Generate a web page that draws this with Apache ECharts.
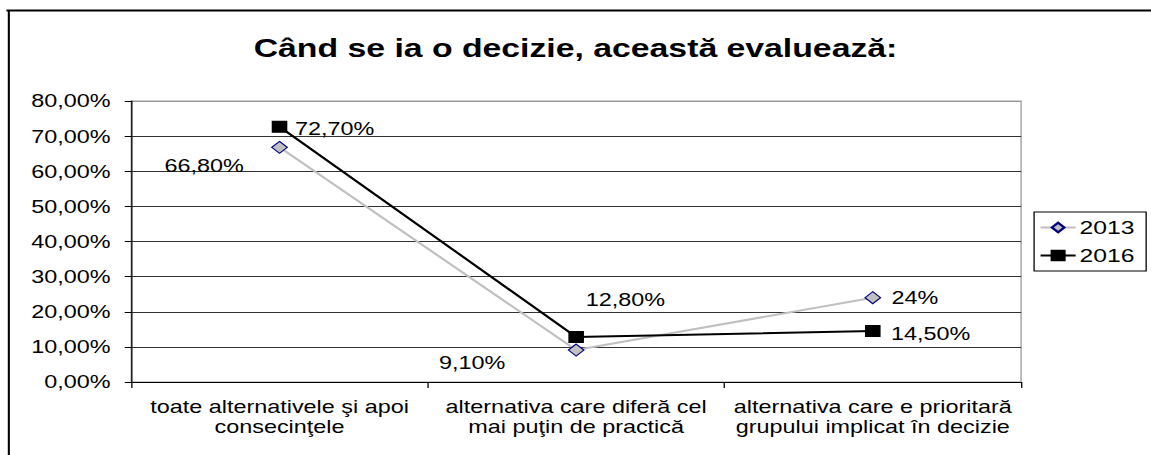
<!DOCTYPE html>
<html>
<head>
<meta charset="utf-8">
<script src="https://cdn.jsdelivr.net/npm/echarts@6/dist/echarts.min.js"></script>
<style>
html,body{margin:0;padding:0;background:#fff;overflow:hidden;}
#wrap{width:1151px;height:455px;overflow:hidden;position:relative;}
#chart{width:886px;height:455px;transform:scaleX(1.2991);transform-origin:0 0;}
</style>
</head>
<body>
<div id="wrap"><div id="chart"></div></div>
<script>
const titleText = 'Când se ia o decizie, această evaluează:';
const categories = ['toate alternativele şi apoi\nconsecinţele', 'alternativa care diferă cel\nmai puţin de practică', 'alternativa care e prioritară\ngrupului implicat în decizie'];
const seriesNames = ['2013', '2016'];
const values2013 = [66.8, 9.1, 24];
const values2016 = [72.7, 12.8, 14.5];
const labels2013 = ['66,80%', '9,10%', '24%'];
const labels2016 = ['72,70%', '12,80%', '14,50%'];
const yMin = 0, yMax = 80, yStep = 10;

const FONT = 'Liberation Sans, Arial, sans-serif';

// label placement per point (layout only)
const place2013 = [
  {position: 'left', offset: [-16, 18]},
  {position: 'left', offset: [-43, 12]},
  {position: 'right', offset: [3, 0]}
];
const place2016 = [
  {position: 'right', offset: [1, 2]},
  {position: 'top', offset: [38, -18]},
  {position: 'right', offset: [3, 2]}
];

function mkData(vals, labels, place) {
  return vals.map((v, i) => ({
    value: v,
    label: Object.assign({show: true, formatter: labels[i]}, place[i])
  }));
}

const chart = echarts.init(document.getElementById('chart'), null, {renderer: 'svg'});
const gridColors = [];
for (let v = yMin; v <= yMax; v += yStep) gridColors.push(v === yMax ? '#9a9a9a' : '#333');

chart.setOption({
  animation: false,
  backgroundColor: '#fff',
  textStyle: {fontFamily: FONT},
  title: {
    text: titleText,
    left: 'center',
    top: 30,
    textStyle: {fontFamily: FONT, fontSize: 26, fontWeight: 'bold', color: '#000'}
  },
  grid: {
    left: 101, right: 100, top: 101, bottom: 73,
    show: true, borderColor: '#9a9a9a', borderWidth: 1, backgroundColor: '#fff'
  },
  legend: {
    orient: 'vertical',
    left: 796, top: 212,
    padding: [6, 9, 6, 4],
    borderColor: '#000', borderWidth: 1,
    itemWidth: 27, itemHeight: 12, itemGap: 9,
    textStyle: {fontFamily: FONT, fontSize: 19, color: '#000', padding: [0, 0, 0, -2]},
    data: seriesNames
  },
  xAxis: {
    type: 'category',
    data: categories,
    boundaryGap: true,
    axisLine: {lineStyle: {color: '#000', width: 1}},
    axisTick: {show: true, length: 6, alignWithLabel: false, lineStyle: {color: '#000'}},
    axisLabel: {color: '#000', fontFamily: FONT, fontSize: 18, lineHeight: 20, margin: 15, interval: 0}
  },
  yAxis: {
    type: 'value',
    min: yMin, max: yMax, interval: yStep,
    axisLine: {show: true, lineStyle: {color: '#000', width: 1}},
    axisTick: {show: true, length: 5, lineStyle: {color: '#000'}},
    splitLine: {show: true, lineStyle: {color: gridColors, width: 1}},
    axisLabel: {
      color: '#000', fontFamily: FONT, fontSize: 18, margin: 16,
      formatter: v => v.toFixed(2).replace('.', ',') + '%'
    }
  },
  series: [
    {
      name: seriesNames[0],
      type: 'line',
      data: mkData(values2013, labels2013, place2013),
      symbol: 'diamond',
      symbolSize: 12,
      lineStyle: {color: '#c0c0c0', width: 2},
      itemStyle: {color: '#c0c0c0', borderColor: '#000080', borderWidth: 1},
      label: {color: '#000', fontFamily: FONT, fontSize: 18},
      z: 2
    },
    {
      name: seriesNames[1],
      type: 'line',
      data: mkData(values2016, labels2016, place2016),
      symbol: 'rect',
      symbolSize: 11,
      lineStyle: {color: '#000', width: 2},
      itemStyle: {color: '#000', borderColor: '#000', borderWidth: 1},
      label: {color: '#000', fontFamily: FONT, fontSize: 18},
      z: 3
    }
  ],
  graphic: [
    {type: 'line', shape: {x1: 5, y1: 10.5, x2: 886, y2: 10.5}, style: {stroke: '#000', lineWidth: 2}, silent: true},
    {type: 'line', shape: {x1: 6.8, y1: 10, x2: 6.8, y2: 455}, style: {stroke: '#000', lineWidth: 1.6}, silent: true}
  ]
});
</script>
</body>
</html>
